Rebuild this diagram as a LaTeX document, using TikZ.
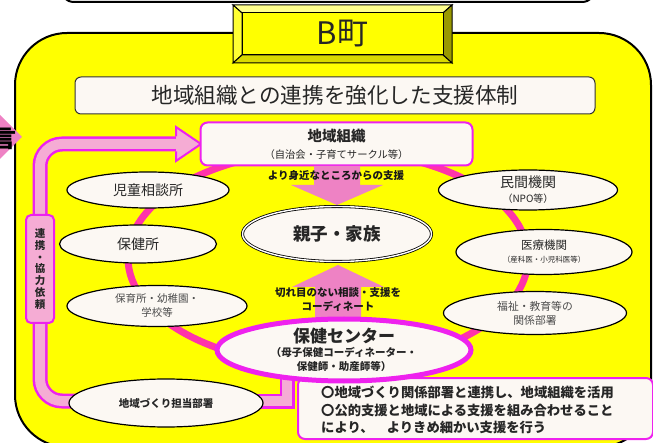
\documentclass[tikz,border=0pt]{standalone}
\usepackage{fontspec}
\setmainfont{Noto Sans CJK JP}
\usetikzlibrary{shapes.geometric}

\definecolor{townyel}{RGB}{255,255,0}
\definecolor{cream}{RGB}{252,248,243}
\definecolor{ringpink}{RGB}{255,51,170}
\definecolor{edgemag}{RGB}{238,34,238}
\definecolor{bandpink}{RGB}{245,172,212}
\definecolor{arrowpink}{RGB}{238,130,196}
\newcommand{\jpsize}[2]{\fontsize{#1}{#2}\selectfont}

\begin{document}
\begin{tikzpicture}[x=1pt,y=-1pt]
        \tikzset{org/.style={ellipse,draw,line width=1.2pt,fill=cream,inner sep=0pt,align=center,text=black!85}}
        \tikzset{pad/.style={draw=edgemag,line width=2pt,fill=cream,rounded corners=7pt,inner sep=0pt}}
        \tikzset{fat/.style={fill=arrowpink}}
        \tikzset{bevel/.style={draw,line width=1pt}}

        \useasboundingbox (0,0) rectangle (653,443);

        % frames
        \draw[line width=2pt,fill=white,rounded corners=14pt] (60,-40) rectangle (596,2);
        \draw[line width=2pt,fill=townyel,rounded corners=52pt] (15,33) rectangle (651,447);

        % from the panel on the left
        \fill[arrowpink] (-6,109) -- (22,137) -- (-6,165) -- cycle;
        \node[font=\bfseries\jpsize{24}{26}] (prev) at (4,139) {言};

        % town plate
        \filldraw[bevel,fill=townyel!45!white] (233,5) -- (452,5) -- (443,13) -- (242,13) -- cycle;
        \filldraw[bevel,fill=townyel!80!white] (233,5) -- (242,13) -- (242,55) -- (233,63) -- cycle;
        \filldraw[bevel,fill=townyel!60!black] (452,5) -- (452,63) -- (443,55) -- (443,13) -- cycle;
        \filldraw[bevel,fill=townyel!85!black] (233,63) -- (452,63) -- (443,55) -- (242,55) -- cycle;
        \filldraw[bevel,fill=townyel] (242,13) rectangle (443,55);
        \node[font=\jpsize{31}{34},text=black!85] (town) at (342.5,34) {B町};

        \node[draw=black!80,line width=1pt,fill=cream,rounded corners=6pt,minimum width=520pt,minimum height=37pt,font=\jpsize{21.6}{24},text=black!85] (theme) at (335,95.5) {地域組織との連携を強化した支援体制};

        % loop band
        \coordinate (bandstart) at (287,372);
        \foreach \c/\w in {edgemag/15pt,bandpink/10pt} {
            \draw[\c,line width=\w] (bandstart) -- (287,401) -- (230,401);
            \draw[\c,line width=\w,rounded corners=22pt] (240,401) -- (40,401) -- (40,144) -- (178,144);
        }
        \filldraw[fill=bandpink,draw=edgemag,line width=2pt] (176,136.5) -- (176,127) -- (201,144) -- (176,161) -- (176,151.5);

        \draw[ringpink,line width=7pt] (328,258) ellipse [x radius=200,y radius=108];

        \node[pad,minimum width=272pt,minimum height=43pt,align=center,font=\jpsize{10.3}{17},text=black!85] (area) at (336.5,144) {{\bfseries\jpsize{14.5}{17}地域組織}\\（自治会・子育てサークル等）};

        % fat arrows
        \fill[fat] (314,166) -- (360,166) -- (360,185) -- (383,185) -- (337,205) -- (291,185) -- (314,185) -- cycle;
        \fill[fat] (315,321) -- (361,321) -- (361,287) -- (384,287) -- (338,265) -- (292,287) -- (315,287) -- cycle;

        \node[org,minimum width=162pt,minimum height=36pt,font=\jpsize{14}{16}] (jido) at (148,190) {児童相談所};
        \node[org,minimum width=157pt,minimum height=38pt,font=\jpsize{14}{16}] (hoken) at (138,244) {保健所};
        \node[org,minimum width=180pt,minimum height=41pt,font=\jpsize{10.5}{14},text=black!70] (school) at (157,306) {保育所・幼稚園・\\学校等};
        \node[org,minimum width=194pt,minimum height=48pt,font=\bfseries\jpsize{10.5}{12}] (local) at (166,403) {地域づくり担当部署};
        \node[org,minimum width=179pt,minimum height=40pt,font=\jpsize{10}{15}] (npo) at (528,190) {{\jpsize{14}{16}民間機関}\\（NPO等）};
        \node[org,minimum width=176pt,minimum height=45pt,font=\jpsize{7.5}{13}] (med) at (544,252) {{\jpsize{11.5}{13}医療機関}\\（産科医・小児科医等）};
        \node[org,minimum width=183pt,minimum height=43pt,font=\jpsize{10.8}{14},text=black!70] (welfare) at (535,313) {福祉・教育等の\\関係部署};
        \node[org,double,double distance=1.4pt,line width=0.8pt,minimum width=189pt,minimum height=55pt,font=\bfseries\jpsize{17.5}{20}] (family) at (337,234) {親子・家族};

        \node[draw=edgemag,line width=2pt,fill=bandpink,rounded corners=5pt,minimum width=28pt,minimum height=108pt,inner sep=0pt,align=center,font=\bfseries\jpsize{10.5}{11.7},text=black!85] (ask) at (40,269) {連\\携\\・\\協\\力\\依\\頼};

        % summary
        \node[pad,minimum width=355pt,minimum height=61pt,anchor=north west] (sumbox) at (297,377) {};
        \node[anchor=north west,inner sep=0pt,align=left,font=\bfseries\jpsize{13.3}{17.5},text=black!85] (sumtext) at (321,386) {〇地域づくり関係部署と連携し、地域組織を活用\\〇公的支援と地域による支援を組み合わせること\\により、　よりきめ細かい支援を行う};

        \node[org,draw=edgemag,line width=5pt,minimum width=254pt,minimum height=62pt,font=\bfseries\jpsize{10.5}{14}] (center) at (344,350) {{\jpsize{17}{20}保健センター}\\（母子保健コーディネーター・\\保健師・助産師等）};

        \node[font=\bfseries\jpsize{10.5}{12},text=black!90] (near) at (336,176) {より身近なところからの支援};
        \node[font=\bfseries\jpsize{10.5}{14},align=center,text=black!90] (seam) at (338,300) {切れ目のない相談・支援を\\コーディネート};
\end{tikzpicture}
\end{document}
